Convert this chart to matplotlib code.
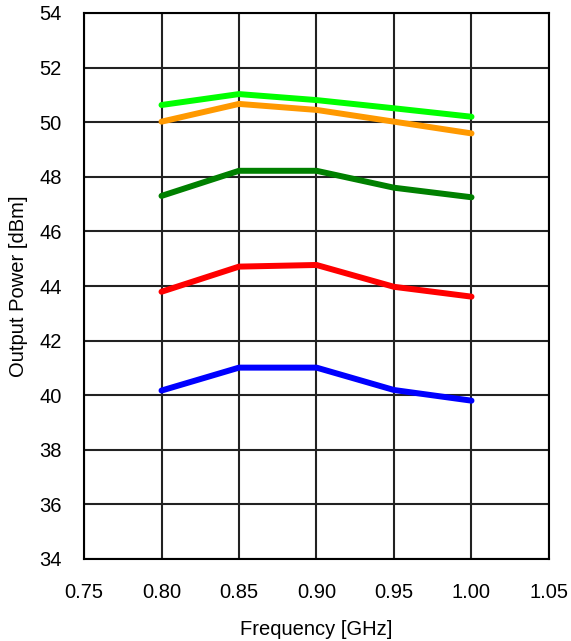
import matplotlib
matplotlib.use("Agg")
import matplotlib.pyplot as plt

freq = [0.80, 0.85, 0.90, 0.95, 1.00]
lime = [50.63, 51.03, 50.81, 50.51, 50.20]
orange = [50.02, 50.67, 50.45, 50.02, 49.59]
darkgreen = [47.30, 48.22, 48.22, 47.60, 47.25]
red = [43.79, 44.71, 44.77, 43.97, 43.61]
blue = [40.17, 41.01, 41.01, 40.19, 39.80]

xticks = [0.75, 0.80, 0.85, 0.90, 0.95, 1.00, 1.05]
yticks = list(range(34, 55, 2))

plt.rcParams['font.family'] = ['Liberation Sans', 'DejaVu Sans']

fig = plt.figure(figsize=(5.71, 6.41), dpi=100)
ax = fig.add_axes([84/571, 1-559/641, (549-84)/571, (559-13)/641])

lw = 4.3
for y, c in [(blue, '#0000ff'), (red, '#ff0000'), (darkgreen, '#008000'),
             (orange, '#ff9900'), (lime, '#00ff00')]:
    ax.plot(freq, y, color=c, lw=lw, solid_capstyle='round', solid_joinstyle='round', zorder=3)

ax.set_xlim(0.75, 1.05)
ax.set_ylim(34, 54)
ax.set_xticks(xticks)
ax.set_xticklabels([f"{v:.2f}" for v in xticks])
ax.set_yticks(yticks)
ax.grid(True, color='#222222', lw=1.5)
for s in ax.spines.values():
    s.set_color('black')
    s.set_linewidth(1.5)
ax.tick_params(length=0, labelsize=14.5)
ax.tick_params(axis='x', pad=17)
ax.tick_params(axis='y', pad=16)
ax.set_xlabel('Frequency [GHz]', fontsize=14.5, labelpad=13.5)
ax.set_ylabel('Output Power [dBm]', fontsize=14.5, labelpad=8)

fig.savefig('out.png', dpi=100)
